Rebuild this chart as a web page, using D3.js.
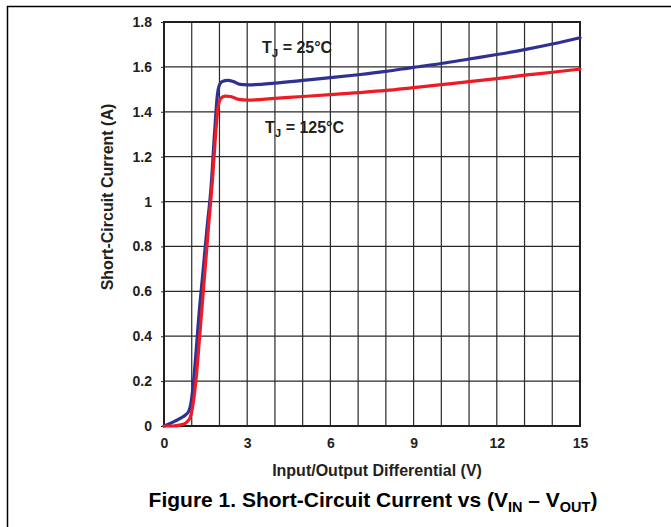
<!DOCTYPE html>
<html>
<head>
<meta charset="utf-8">
<script src="https://cdn.jsdelivr.net/npm/d3@7/dist/d3.min.js"></script>
<style>
  html, body { margin: 0; padding: 0; background: #fff; }
  svg { display: block; font-family: "Liberation Sans", Arial, Helvetica, sans-serif; font-weight: bold; }
</style>
</head>
<body>
<svg id="chart" width="671" height="527"></svg>
<script>
// ---- data ----
const xTicks = [0, 3, 6, 9, 12, 15];
const yTicks = [0, 0.2, 0.4, 0.6, 0.8, 1, 1.2, 1.4, 1.6, 1.8];
const xGrid = [0, 1, 2, 3, 4, 5, 6, 7, 8, 9, 10, 11, 12, 13, 14, 15];

const seriesNames = ["TJ = 25°C", "TJ = 125°C"];

// TJ = 25°C (blue): [V, A]
const blue25 = [
  [0, 0], [0.2, 0.01], [0.4, 0.022], [0.6, 0.035], [0.8, 0.052], [0.9, 0.068],
  [0.97, 0.1], [1.05, 0.18], [1.15, 0.32], [1.25, 0.48], [1.4, 0.68], [1.55, 0.88],
  [1.7, 1.07], [1.82, 1.3], [1.92, 1.47], [2.0, 1.52], [2.1, 1.535], [2.3, 1.54],
  [2.5, 1.535], [2.75, 1.522], [3, 1.52], [4, 1.528], [5, 1.54], [6, 1.552],
  [7, 1.565], [8, 1.58], [9, 1.598], [10, 1.615], [11, 1.635], [12, 1.655],
  [13, 1.677], [14, 1.702], [15, 1.73]
];

// TJ = 125°C (red): [V, A]
const red125 = [
  [0, 0], [0.3, 0], [0.6, 0.005], [0.8, 0.015], [0.95, 0.04], [1.05, 0.1],
  [1.15, 0.2], [1.3, 0.42], [1.45, 0.65], [1.6, 0.88], [1.75, 1.1], [1.85, 1.28],
  [1.95, 1.42], [2.05, 1.46], [2.2, 1.47], [2.4, 1.468], [2.7, 1.455], [3, 1.452],
  [4, 1.46], [5, 1.468], [6, 1.476], [7, 1.485], [8, 1.495], [9, 1.508],
  [10, 1.521], [11, 1.534], [12, 1.548], [13, 1.563], [14, 1.576], [15, 1.59]
];

// ---- layout ----
const svg = d3.select("#chart");
const L = 164, R = 580, T = 22, B = 426;

const x = d3.scaleLinear().domain([0, 15]).range([L, R]);
const y = d3.scaleLinear().domain([0, 1.8]).range([B, T]);

// outer frame
svg.append("path")
  .attr("d", `M7.5,${527} L7.5,6.5 L671,6.5`)
  .attr("fill", "none").attr("stroke", "#000").attr("stroke-width", 1.5);

// grid
const grid = svg.append("g").attr("stroke", "#2a2a2a").attr("stroke-width", 1.2);
grid.selectAll("line.v").data(xGrid).join("line")
  .attr("x1", d => x(d)).attr("x2", d => x(d)).attr("y1", T).attr("y2", B);
grid.selectAll("line.h").data(yTicks).join("line")
  .attr("y1", d => y(d)).attr("y2", d => y(d)).attr("x1", L).attr("x2", R);

// axes (labels)
const yAxis = d3.axisLeft(y).tickValues(yTicks).tickSize(3).tickPadding(9)
  .tickFormat(d => d3.format("~g")(d));
const gy = svg.append("g").attr("transform", `translate(${L},0)`).call(yAxis);
gy.select(".domain").remove();
gy.selectAll("line").attr("stroke", "#2a2a2a");
gy.selectAll("text").attr("font-size", 14).attr("font-weight", "bold")
  .attr("font-family", "Liberation Sans, Arial, sans-serif").attr("fill", "#231f20");

const xAxis = d3.axisBottom(x).tickValues(xTicks).tickSize(0).tickPadding(12)
  .tickFormat(d3.format("d"));
const gx = svg.append("g").attr("transform", `translate(0,${B})`).call(xAxis);
gx.select(".domain").remove();
gx.selectAll("text").attr("font-size", 14).attr("font-weight", "bold")
  .attr("font-family", "Liberation Sans, Arial, sans-serif").attr("fill", "#231f20");

// plot border
svg.append("rect").attr("x", L).attr("y", T).attr("width", R - L).attr("height", B - T)
  .attr("fill", "none").attr("stroke", "#231f20").attr("stroke-width", 2);

// curves
const line = d3.line().x(d => x(d[0])).y(d => y(d[1])).curve(d3.curveMonotoneX);
svg.append("path").datum(blue25).attr("d", line)
  .attr("fill", "none").attr("stroke", "#2e3192").attr("stroke-width", 3.2)
  .attr("stroke-linejoin", "round").attr("stroke-linecap", "round");
svg.append("path").datum(red125).attr("d", line)
  .attr("fill", "none").attr("stroke", "#ed1c24").attr("stroke-width", 3.2)
  .attr("stroke-linejoin", "round").attr("stroke-linecap", "round");

// series labels
function tjLabel(px, py, temp) {
  const t = svg.append("text").attr("x", px).attr("y", py)
    .attr("font-size", 16).attr("font-weight", "bold").attr("fill", "#231f20");
  t.append("tspan").text("T");
  t.append("tspan").attr("font-size", 11.5).attr("dy", 4).text("J");
  t.append("tspan").attr("dy", -4).text(" = " + temp);
}
tjLabel(262, 53, "25°C");
tjLabel(265, 133, "125°C");

// axis titles
svg.append("text")
  .attr("transform", `translate(113,197) rotate(-90)`)
  .attr("text-anchor", "middle").attr("font-size", 16).attr("font-weight", "bold")
  .attr("fill", "#231f20").text("Short-Circuit Current (A)");

svg.append("text")
  .attr("x", 377).attr("y", 476)
  .attr("text-anchor", "middle").attr("font-size", 16).attr("font-weight", "bold")
  .attr("fill", "#231f20").text("Input/Output Differential (V)");

// caption
const cap = svg.append("text").attr("x", 373).attr("y", 507)
  .attr("text-anchor", "middle").attr("font-size", 21).attr("font-weight", "bold").attr("fill", "#000");
cap.append("tspan").text("Figure 1. Short-Circuit Current vs (V");
cap.append("tspan").attr("font-size", 14.5).attr("dy", 5).text("IN");
cap.append("tspan").attr("dy", -5).text(" – V");
cap.append("tspan").attr("font-size", 14.5).attr("dy", 5).text("OUT");
cap.append("tspan").attr("dy", -5).text(")");
</script>
</body>
</html>
